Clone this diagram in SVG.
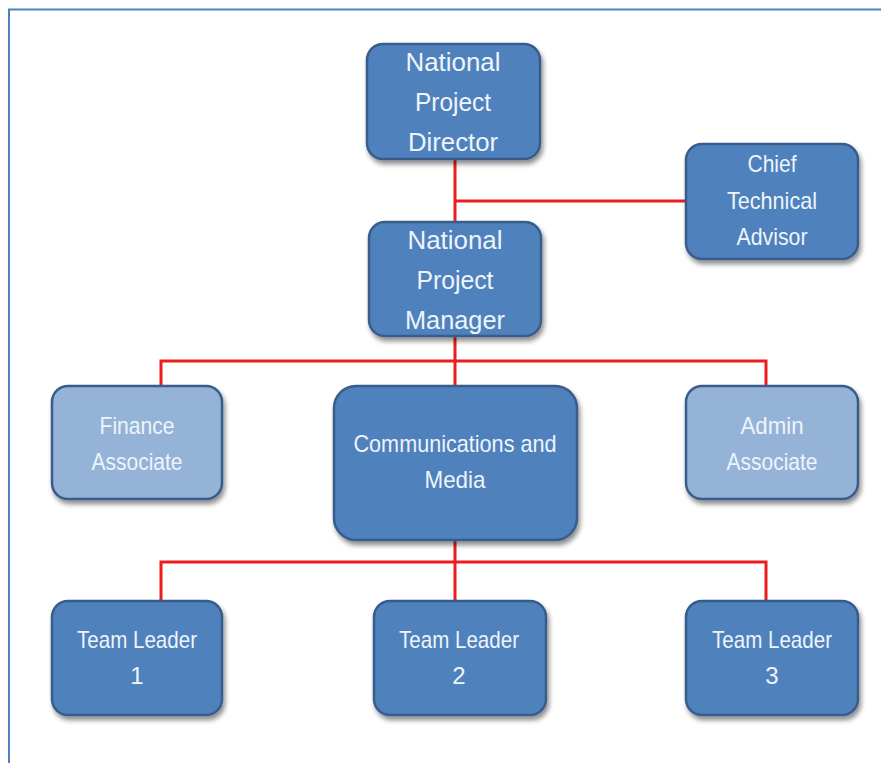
<svg xmlns="http://www.w3.org/2000/svg" width="881" height="763" viewBox="0 0 881 763">
<defs>
<filter id="sh" x="-10%" y="-10%" width="125%" height="130%">
<feGaussianBlur in="SourceAlpha" stdDeviation="2.5"/>
<feOffset dx="2" dy="4" result="b"/>
<feComponentTransfer><feFuncA type="linear" slope="0.45"/></feComponentTransfer>
<feMerge><feMergeNode/><feMergeNode in="SourceGraphic"/></feMerge>
</filter>
<style>
.box{fill:#4f81bd;stroke:#385d8a;stroke-width:2.5;filter:url(#sh)}
.light{fill:#95b3d7}
.t{font-family:"Liberation Sans",Arial,sans-serif;fill:#eef4fb;text-anchor:middle}
.big{font-size:26px}
.sm{font-size:24px}
.c{fill:none;stroke:#ee1c1c;stroke-width:3}
</style>
</defs>
<rect width="881" height="763" fill="#ffffff"/>
<path d="M9 763 V9.5 H881" fill="none" stroke="#4f81bd" stroke-width="2"/>
<g id="connectors">
<path class="c" d="M455 159 V222 M455 201 H686"/>
<path class="c" d="M455 336 V386 M161 386 V361 H766 V386"/>
<path class="c" d="M455 540 V601 M161 601 V562 H766 V601"/>
</g>
<g id="npd">
<rect class="box" x="367" y="44" width="173" height="115" rx="16"/>
<text class="t big" x="453" y="71" textLength="95" lengthAdjust="spacingAndGlyphs">National</text>
<text class="t big" x="453" y="111" textLength="76" lengthAdjust="spacingAndGlyphs">Project</text>
<text class="t big" x="453" y="151" textLength="90" lengthAdjust="spacingAndGlyphs">Director</text>
</g>
<g id="cta">
<rect class="box" x="686" y="144" width="172" height="115" rx="16"/>
<text class="t sm" x="772" y="172" textLength="49" lengthAdjust="spacingAndGlyphs">Chief</text>
<text class="t sm" x="772" y="209" textLength="90" lengthAdjust="spacingAndGlyphs">Technical</text>
<text class="t sm" x="772" y="245" textLength="71" lengthAdjust="spacingAndGlyphs">Advisor</text>
</g>
<g id="npm">
<rect class="box" x="369" y="222" width="172" height="114" rx="16"/>
<text class="t big" x="455" y="249" textLength="95" lengthAdjust="spacingAndGlyphs">National</text>
<text class="t big" x="455" y="289" textLength="77" lengthAdjust="spacingAndGlyphs">Project</text>
<text class="t big" x="455" y="329" textLength="100" lengthAdjust="spacingAndGlyphs">Manager</text>
</g>
<g id="finance">
<rect class="box light" x="52" y="386" width="170" height="113" rx="16"/>
<text class="t sm" x="137" y="434" textLength="75" lengthAdjust="spacingAndGlyphs">Finance</text>
<text class="t sm" x="137" y="470" textLength="91" lengthAdjust="spacingAndGlyphs">Associate</text>
</g>
<g id="comms">
<rect class="box" x="334" y="386" width="243" height="154" rx="22"/>
<text class="t sm" x="455" y="452" textLength="203" lengthAdjust="spacingAndGlyphs">Communications and</text>
<text class="t sm" x="455" y="488" textLength="61" lengthAdjust="spacingAndGlyphs">Media</text>
</g>
<g id="admin">
<rect class="box light" x="686" y="386" width="172" height="113" rx="16"/>
<text class="t sm" x="772" y="434" textLength="63" lengthAdjust="spacingAndGlyphs">Admin</text>
<text class="t sm" x="772" y="470" textLength="91" lengthAdjust="spacingAndGlyphs">Associate</text>
</g>
<g id="tl1">
<rect class="box" x="52" y="601" width="170" height="114" rx="16"/>
<text class="t sm" x="137" y="648" textLength="120" lengthAdjust="spacingAndGlyphs">Team Leader</text>
<text class="t sm" x="137" y="684">1</text>
</g>
<g id="tl2">
<rect class="box" x="374" y="601" width="172" height="114" rx="16"/>
<text class="t sm" x="459" y="648" textLength="120" lengthAdjust="spacingAndGlyphs">Team Leader</text>
<text class="t sm" x="459" y="684">2</text>
</g>
<g id="tl3">
<rect class="box" x="686" y="601" width="172" height="114" rx="16"/>
<text class="t sm" x="772" y="648" textLength="120" lengthAdjust="spacingAndGlyphs">Team Leader</text>
<text class="t sm" x="772" y="684">3</text>
</g>
</svg>
